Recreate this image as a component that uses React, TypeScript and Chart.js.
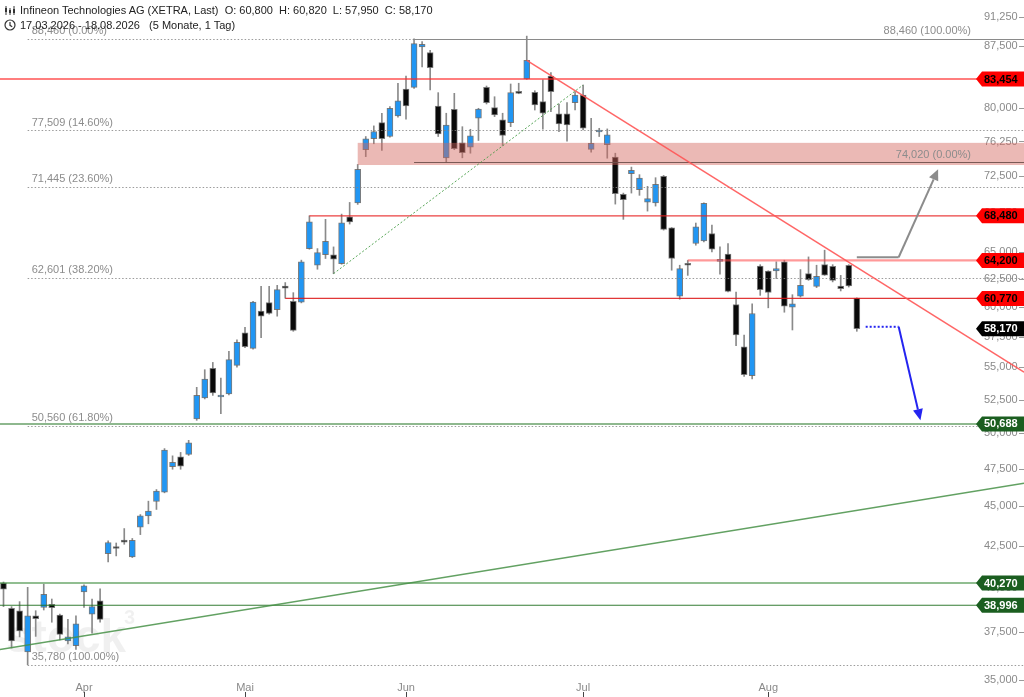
import { useEffect, useRef } from 'react';
import Chart from 'chart.js/auto';

// daily candles, 18.03.2026 - 18.08.2026 (index 10 = 1 April)
const openPrices = [
  40260, 38830, 38690, 36450, 38410, 38880, 39050, 38450, 37030, 36780,
  39750, 38490, 39240, 42020, 42400, 42800, 41820, 43650, 44380, 45310,
  45920, 47650, 48330, 48500, 51050, 52630, 54920, 52700, 52930, 55160,
  57830, 56540, 59660, 60410, 59800, 61870, 60520, 60440, 65310, 63760,
  64750, 64720, 63900, 68380, 69780, 75350, 76550, 78360, 76800, 79120,
  82260, 82460, 87410, 86720, 80270, 74470, 79880, 76110, 75640, 78860,
  82460, 80070, 78670, 78360, 81940, 83460, 81870, 80770, 83820, 79350,
  79350, 80650, 81550, 75390, 77300, 75890, 74540, 70640, 72780, 71120,
  69850, 69780, 72500, 67300, 60980, 63850, 65790, 66050, 66750, 64120,
  64790, 60230, 56670, 54340, 63690, 63220, 63230, 64070, 60000, 60980,
  62990, 61840, 63810, 63660, 61870, 63760, 60800,
];
const highPrices = [
  40330, 38920, 39200, 40020, 38690, 40200, 39350, 38500, 38210, 38400,
  40160, 39350, 39930, 42800, 42670, 43570, 42950, 44460, 45330, 46100,
  48910, 48400, 48640, 49500, 53440, 54820, 55400, 54160, 56290, 57230,
  58290, 60520, 61840, 61840, 61930, 62180, 61280, 64230, 68480, 65310,
  68130, 65470, 68650, 69820, 73760, 76800, 77990, 79430, 80190, 82950,
  83820, 88460, 88100, 87000, 81830, 79430, 81750, 77900, 77610, 80000,
  82620, 81350, 79430, 82860, 82950, 88800, 82060, 83350, 84230, 80500,
  80650, 81940, 82740, 78860, 77720, 77650, 74970, 70770, 73480, 72680,
  71460, 72360, 72600, 67330, 63760, 64200, 67770, 69780, 67570, 65470,
  65790, 61340, 57640, 60300, 63810, 63250, 64070, 64220, 61100, 63360,
  64530, 63760, 65160, 63810, 62830, 63810, 60820,
];
const lowPrices = [
  38920, 36660, 37250, 35780, 37280, 38730, 38050, 37090, 36870, 36590,
  38880, 37450, 38050, 41520, 41880, 42590, 41780, 43190, 43870, 44790,
  45880, 47470, 47470, 48430, 50950, 52550, 52820, 51450, 52860, 55030,
  56600, 56480, 57420, 59400, 59230, 60790, 57950, 60380, 65250, 63390,
  64380, 62990, 63850, 67670, 69620, 74600, 76000, 75280, 76730, 78970,
  78740, 82340, 84920, 82150, 76800, 74020, 75350, 74470, 74970, 76360,
  80500, 79040, 75810, 77900, 81700, 83420, 79800, 77610, 79610, 77350,
  76280, 79800, 77530, 75080, 76800, 74430, 69650, 68130, 70770, 70540,
  68950, 69450, 67080, 63300, 60700, 62830, 65630, 65950, 65000, 62940,
  61340, 56750, 54290, 54090, 61040, 59950, 62540, 59570, 58060, 60890,
  62380, 61730, 62830, 62240, 61430, 61780, 57950,
];
const closePrices = [
  39920, 37030, 37570, 38410, 38250, 39620, 38860, 37390, 37250, 37960,
  40100, 38920, 38210, 42700, 42330, 42720, 42840, 44380, 44680, 45990,
  48800, 47950, 47690, 49320, 52820, 54090, 53010, 52800, 55620, 57040,
  56670, 60440, 59230, 59460, 61550, 61670, 58030, 64070, 67890, 64930,
  66010, 64320, 67790, 67890, 73240, 76550, 77360, 76550, 80000, 80880,
  80270, 87840, 87750, 84850, 77100, 78070, 75470, 75020, 76880, 79920,
  80650, 79230, 76910, 81830, 81750, 85750, 80380, 79430, 81940, 78220,
  78100, 81550, 77720, 76060, 77400, 76990, 70710, 70110, 73130, 72320,
  70210, 71670, 67150, 64380, 63440, 63760, 67410, 69720, 65250, 64200,
  61400, 57640, 54420, 59460, 61540, 61290, 63440, 60090, 60300, 61930,
  62450, 62740, 62850, 62380, 61640, 61870, 58170,
];

const monthIndex = [10, 30, 50, 72, 95];
const monthLabels = ['Apr', 'Mai', 'Jun', 'Jul', 'Aug'];
const priceTicks = [
  35000, 37500, 40000, 42500, 45000, 47500, 50000, 52500, 55000, 57500,
  60000, 62500, 65000, 68750, 72500, 76250, 80000, 83750, 87500, 91250,
];

// fibonacci retracement (35,780 low -> 88,460 high)
const fibStart = 3;
const fibValues = [88460, 77509, 71445, 62601, 50560, 35780];
const fibPercents = ['0.00%', '14.60%', '23.60%', '38.20%', '61.80%', '100.00%'];
// second retracement from the top
const fib2Start = 51;
const fib2Values = [88460, 74020];
const fib2Percents = ['100.00%', '0.00%'];
// resistance zone
const zoneStart = 44;
const zoneRange = [73700, 76100];

// horizontal levels: value, start index
const levelValues = [83454, 68480, 64200, 60770, 50688, 40270, 38996];
const levelStarts = [-1, 38, 85, 35, -1, -1, -1];
const lastPrice = 58170;

// trend lines [index, price]
const redTrend = [[65, 85750], [120, 57390]];
const greenTrend = [[0, 36610], [120, 45930]];
const greenDotted = [[41, 62990], [72, 82740]];
const grayArrow = [[106, 64500], [111.2, 64500], [116.1, 73250]];
const blueArrow = [[107.1, 58330], [111.2, 58330], [113.9, 50960]];

const FONT = '"Liberation Sans", Arial, sans-serif';
const UP = '#2196f3';
const DOWN = '#0a0a0a';
const RED_TAG = '#ff0000';
const GREEN_TAG = '#1b5e20';

const levelStyles = [
  { color: 'rgba(255,40,40,0.8)', width: 1.5, tag: RED_TAG, text: '#000' },
  { color: 'rgba(230,30,30,0.85)', width: 1.2, tag: RED_TAG, text: '#000' },
  { color: 'rgba(255,70,70,0.55)', width: 2.2, tag: RED_TAG, text: '#000' },
  { color: 'rgba(220,20,20,0.85)', width: 1.2, tag: RED_TAG, text: '#000' },
  { color: 'rgba(40,120,40,0.7)', width: 1.5, tag: GREEN_TAG, text: '#fff' },
  { color: 'rgba(60,140,60,0.75)', width: 1.5, tag: GREEN_TAG, text: '#fff' },
  { color: 'rgba(30,110,30,0.9)', width: 1.2, tag: GREEN_TAG, text: '#fff' },
];

const fmt = (v: number) => v.toLocaleString('en-US');

const App = () => {
  const canvasRef = useRef<HTMLCanvasElement | null>(null);
  const chartRef = useRef<Chart | null>(null);

  useEffect(() => {
    document.body.style.margin = '0';
    if (!canvasRef.current) return;

    const idx = openPrices.map((_, i) => i);
    const bodies = idx.map((i) => ({
      x: i,
      y: [Math.min(openPrices[i], closePrices[i]), Math.max(openPrices[i], closePrices[i])],
    }));
    const wicks = idx.map((i) => ({ x: i, y: [lowPrices[i], highPrices[i]] }));
    const bodyColors = idx.map((i) => (closePrices[i] >= openPrices[i] ? UP : DOWN));

    const overlay = {
      id: 'overlay',
      beforeDatasetsDraw(chart: any) {
        const ctx = chart.ctx;
        ctx.save();
        ctx.fillStyle = 'rgba(0,0,0,0.06)';
        ctx.font = `bold 46px ${FONT}`;
        ctx.textBaseline = 'alphabetic';
        ctx.fillText('stock', 6, 652);
        ctx.font = `bold 20px ${FONT}`;
        ctx.fillText('3', 124, 624);
        ctx.restore();
      },
      afterDatasetsDraw(chart: any) {
        const ctx = chart.ctx;
        const xs = chart.scales.x;
        const ys = chart.scales.y;
        const px = (i: number) => xs.getPixelForValue(i);
        const py = (v: number) => ys.getPixelForValue(v);
        const W = chart.width;
        const right = chart.chartArea.right;
        ctx.save();

        // zone
        const zTop = py(zoneRange[1]);
        const zBot = py(zoneRange[0]);
        ctx.fillStyle = 'rgba(210,100,90,0.45)';
        ctx.fillRect(px(zoneStart), zTop, W - px(zoneStart), zBot - zTop);

        // fib 1 (dotted)
        ctx.lineWidth = 1;
        ctx.strokeStyle = 'rgba(130,130,130,0.8)';
        ctx.setLineDash([1.5, 2]);
        fibValues.forEach((v) => {
          const y = Math.round(py(v)) + 0.5;
          ctx.beginPath();
          ctx.moveTo(px(fibStart), y);
          ctx.lineTo(W, y);
          ctx.stroke();
        });
        ctx.setLineDash([]);

        // fib 2 (solid)
        fib2Values.forEach((v, k) => {
          const y = Math.round(py(v)) + 0.5;
          ctx.strokeStyle = k === 0 ? '#8a8a8a' : 'rgba(110,80,75,0.9)';
          ctx.beginPath();
          ctx.moveTo(px(fib2Start), y);
          ctx.lineTo(W, y);
          ctx.stroke();
        });

        // horizontal levels
        levelValues.forEach((v, k) => {
          const st = levelStyles[k];
          const y = py(v);
          ctx.strokeStyle = st.color;
          ctx.lineWidth = st.width;
          ctx.beginPath();
          ctx.moveTo(levelStarts[k] < 0 ? 0 : px(levelStarts[k]), y);
          ctx.lineTo(W, y);
          ctx.stroke();
        });

        const extLine = (pts: number[][], fromX: number | null, toX: number) => {
          const x1 = px(pts[0][0]);
          const y1 = py(pts[0][1]);
          const x2 = px(pts[1][0]);
          const y2 = py(pts[1][1]);
          const k = (y2 - y1) / (x2 - x1);
          const a = fromX === null ? x1 : fromX;
          ctx.beginPath();
          ctx.moveTo(a, y1 + (a - x1) * k);
          ctx.lineTo(toX, y1 + (toX - x1) * k);
          ctx.stroke();
        };

        ctx.lineWidth = 1.5;
        ctx.strokeStyle = 'rgba(70,145,70,0.85)';
        extLine(greenTrend, 0, W);
        ctx.strokeStyle = 'rgba(255,85,85,0.9)';
        extLine(redTrend, null, W);

        ctx.lineWidth = 1;
        ctx.strokeStyle = 'rgba(60,150,60,0.85)';
        ctx.setLineDash([2, 2]);
        extLine(greenDotted, null, px(greenDotted[1][0]));
        ctx.setLineDash([]);

        const arrow = (pts: number[][], color: string, dashFirst: boolean) => {
          const p = pts.map((q) => [px(q[0]), py(q[1])]);
          ctx.strokeStyle = color;
          ctx.fillStyle = color;
          ctx.lineWidth = 2;
          ctx.beginPath();
          if (dashFirst) ctx.setLineDash([2, 2]);
          ctx.moveTo(p[0][0], p[0][1]);
          ctx.lineTo(p[1][0], p[1][1]);
          ctx.stroke();
          ctx.setLineDash([]);
          const [ax, ay] = p[2];
          const ang = Math.atan2(ay - p[1][1], ax - p[1][0]);
          const hl = 11;
          const bx = ax - hl * Math.cos(ang);
          const by = ay - hl * Math.sin(ang);
          ctx.beginPath();
          ctx.moveTo(p[1][0], p[1][1]);
          ctx.lineTo(bx, by);
          ctx.stroke();
          ctx.beginPath();
          ctx.moveTo(ax, ay);
          ctx.lineTo(bx + 5 * Math.sin(ang), by - 5 * Math.cos(ang));
          ctx.lineTo(bx - 5 * Math.sin(ang), by + 5 * Math.cos(ang));
          ctx.closePath();
          ctx.fill();
        };
        arrow(grayArrow, '#8c8c8c', false);
        arrow(blueArrow, '#2424f0', true);

        // fib labels
        ctx.font = `11px ${FONT}`;
        ctx.fillStyle = '#8c8c8c';
        ctx.textBaseline = 'bottom';
        ctx.textAlign = 'left';
        fibValues.forEach((v, k) => {
          ctx.fillText(`${fmt(v)} (${fibPercents[k]})`, px(fibStart) + 4, py(v) - 2);
        });
        ctx.textAlign = 'right';
        fib2Values.forEach((v, k) => {
          ctx.fillText(`${fmt(v)} (${fib2Percents[k]})`, right + 1, py(v) - 2);
        });
        ctx.restore();
      },
      afterDraw(chart: any) {
        const ctx = chart.ctx;
        const xs = chart.scales.x;
        const ys = chart.scales.y;
        const W = chart.width;
        const H = chart.height;
        ctx.save();
        ctx.strokeStyle = '#9a9a9a';
        ctx.lineWidth = 1;
        priceTicks.forEach((v) => {
          const y = Math.round(ys.getPixelForValue(v)) + 0.5;
          ctx.beginPath();
          ctx.moveTo(W - 5, y);
          ctx.lineTo(W, y);
          ctx.stroke();
        });
        ctx.strokeStyle = '#444';
        monthIndex.forEach((i) => {
          const x = Math.round(xs.getPixelForValue(i)) + 0.5;
          ctx.beginPath();
          ctx.moveTo(x, H - 5);
          ctx.lineTo(x, H);
          ctx.stroke();
        });

        const tag = (v: number, bg: string, fg: string) => {
          const y = ys.getPixelForValue(v);
          const x0 = chart.chartArea.right + 6;
          ctx.fillStyle = bg;
          ctx.beginPath();
          ctx.moveTo(x0, y);
          ctx.lineTo(x0 + 6, y - 7.5);
          ctx.lineTo(W, y - 7.5);
          ctx.lineTo(W, y + 7.5);
          ctx.lineTo(x0 + 6, y + 7.5);
          ctx.closePath();
          ctx.fill();
          ctx.fillStyle = fg;
          ctx.font = `bold 11px ${FONT}`;
          ctx.textAlign = 'left';
          ctx.textBaseline = 'middle';
          ctx.fillText(fmt(v), x0 + 8, y + 0.5);
        };
        levelValues.forEach((v, k) => tag(v, levelStyles[k].tag, levelStyles[k].text));
        tag(lastPrice, '#000', '#fff');
        ctx.restore();
      },
    };

    const noPad = (axis: any) => {
      axis.paddingTop = 0;
      axis.paddingBottom = 0;
      axis.paddingLeft = 0;
      axis.paddingRight = 0;
    };

    chartRef.current = new Chart(canvasRef.current, {
      type: 'bar',
      data: {
        datasets: [
          {
            label: 'body',
            data: bodies,
            backgroundColor: bodyColors,
            borderColor: 'rgba(100,100,100,0.85)',
            borderWidth: 1,
            borderSkipped: false,
            barThickness: 6,
            minBarLength: 2,
            grouped: false,
            order: 0,
          },
          {
            label: 'wick',
            data: wicks,
            backgroundColor: '#8a8a8a',
            barThickness: 1,
            grouped: false,
            order: 1,
          },
        ],
      } as any,
      options: {
        animation: false,
        responsive: true,
        maintainAspectRatio: false,
        layout: { padding: 0 },
        plugins: { legend: { display: false }, tooltip: { enabled: false } },
        scales: {
          x: {
            type: 'linear',
            min: -0.435,
            max: 120.06,
            offset: false,
            bounds: 'data',
            grid: { display: false, drawTicks: false },
            border: { display: false },
            ticks: {
              autoSkip: false,
              maxRotation: 0,
              padding: -2,
              color: '#8a8a8a',
              font: { family: FONT, size: 11 },
              callback: (v: any) => monthLabels[monthIndex.indexOf(Number(v))] ?? '',
            },
            afterBuildTicks: (axis: any) => {
              axis.ticks = monthIndex.map((v) => ({ value: v }));
            },
            afterFit: (axis: any) => {
              axis.height = 14;
              noPad(axis);
            },
          },
          y: {
            type: 'logarithmic',
            position: 'right',
            min: 34850,
            max: 93560,
            bounds: 'data',
            grid: { display: false, drawTicks: false },
            border: { display: false },
            ticks: {
              crossAlign: 'near',
              padding: 14,
              color: '#8a8a8a',
              font: { family: FONT, size: 11 },
              callback: (v: any) => fmt(Number(v)),
            },
            afterBuildTicks: (axis: any) => {
              axis.ticks = priceTicks.map((v) => ({ value: v }));
            },
            afterFit: (axis: any) => {
              axis.width = 54;
              noPad(axis);
            },
          },
        },
      } as any,
      plugins: [overlay],
    });

    return () => {
      if (chartRef.current) {
        chartRef.current.destroy();
        chartRef.current = null;
      }
    };
  }, []);

  const headStyle: React.CSSProperties = {
    position: 'absolute',
    left: 4,
    display: 'flex',
    alignItems: 'center',
    gap: 4,
    font: `11px ${FONT}`,
    color: '#222',
    whiteSpace: 'pre',
    lineHeight: '14px',
  };

  return (
    <div style={{ position: 'relative', width: 1024, height: 697, background: '#fff' }}>
      <canvas ref={canvasRef}></canvas>
      <div style={{ ...headStyle, top: 3 }}>
        <svg width="12" height="11" viewBox="0 0 12 11">
          <path d="M2 1v9M6 3v7M10 1v9" stroke="#333" strokeWidth="1" />
          <rect x="1" y="3" width="2" height="4" fill="#333" />
          <rect x="5" y="5" width="2" height="3" fill="#333" />
          <rect x="9" y="4" width="2" height="4" fill="#333" />
        </svg>
        <span>Infineon Technologies AG (XETRA, Last)  O: 60,800  H: 60,820  L: 57,950  C: 58,170</span>
      </div>
      <div style={{ ...headStyle, top: 18 }}>
        <svg width="12" height="12" viewBox="0 0 12 12">
          <circle cx="6" cy="6" r="5" fill="none" stroke="#333" strokeWidth="1.2" />
          <path d="M6 3v3.3l2.2 1.4" fill="none" stroke="#333" strokeWidth="1.2" />
        </svg>
        <span>17.03.2026 - 18.08.2026   (5 Monate, 1 Tag)</span>
      </div>
    </div>
  );
};

export default App;
